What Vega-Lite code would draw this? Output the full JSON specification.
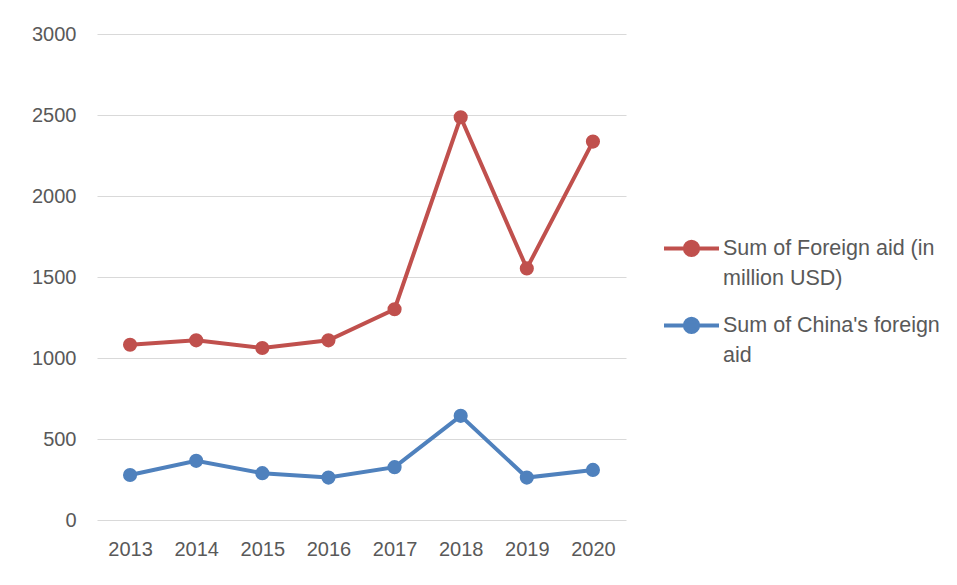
{
  "$schema": "https://vega.github.io/schema/vega-lite/v6.json",
  "width": 529,
  "height": 486,
  "autosize": {"type": "none"},
  "padding": {"left": 97, "top": 34, "right": 331, "bottom": 65},
  "background": "white",
  "data": {
    "values": [
      {"year": "2013", "series": "Sum of Foreign aid (in million USD)", "value": 1082},
      {"year": "2014", "series": "Sum of Foreign aid (in million USD)", "value": 1109},
      {"year": "2015", "series": "Sum of Foreign aid (in million USD)", "value": 1062},
      {"year": "2016", "series": "Sum of Foreign aid (in million USD)", "value": 1109},
      {"year": "2017", "series": "Sum of Foreign aid (in million USD)", "value": 1301},
      {"year": "2018", "series": "Sum of Foreign aid (in million USD)", "value": 2486},
      {"year": "2019", "series": "Sum of Foreign aid (in million USD)", "value": 1553},
      {"year": "2020", "series": "Sum of Foreign aid (in million USD)", "value": 2336},
      {"year": "2013", "series": "Sum of China's foreign aid", "value": 278},
      {"year": "2014", "series": "Sum of China's foreign aid", "value": 365},
      {"year": "2015", "series": "Sum of China's foreign aid", "value": 289},
      {"year": "2016", "series": "Sum of China's foreign aid", "value": 262},
      {"year": "2017", "series": "Sum of China's foreign aid", "value": 326},
      {"year": "2018", "series": "Sum of China's foreign aid", "value": 643},
      {"year": "2019", "series": "Sum of China's foreign aid", "value": 262},
      {"year": "2020", "series": "Sum of China's foreign aid", "value": 309}
    ]
  },
  "encoding": {
    "x": {
      "field": "year",
      "type": "ordinal",
      "scale": {"type": "point", "padding": 0.5},
      "axis": {
        "title": null,
        "labelAngle": 0,
        "domain": false,
        "ticks": false,
        "grid": false,
        "labelPadding": 19,
        "labelFontSize": 20
      }
    },
    "y": {
      "field": "value",
      "type": "quantitative",
      "scale": {"domain": [0, 3000]},
      "axis": {
        "title": null,
        "values": [0, 500, 1000, 1500, 2000, 2500, 3000],
        "format": "d",
        "domain": false,
        "ticks": false,
        "grid": true,
        "gridColor": "#d9d9d9",
        "gridWidth": 1,
        "labelPadding": 21,
        "labelFontSize": 20
      }
    },
    "color": {
      "field": "series",
      "type": "nominal",
      "sort": ["Sum of Foreign aid (in million USD)", "Sum of China's foreign aid"],
      "scale": {
        "domain": ["Sum of Foreign aid (in million USD)", "Sum of China's foreign aid"],
        "range": ["#C0504D", "#4F81BD"]
      }
    }
  },
  "layer": [
    {
      "mark": {"type": "line", "strokeWidth": 4},
      "encoding": {
        "color": {
          "field": "series",
          "type": "nominal",
          "sort": ["Sum of Foreign aid (in million USD)", "Sum of China's foreign aid"],
          "scale": {
            "domain": ["Sum of Foreign aid (in million USD)", "Sum of China's foreign aid"],
            "range": ["#C0504D", "#4F81BD"]
          },
          "legend": {
            "title": null,
            "orient": "none",
            "legendX": 565,
            "legendY": 191,
            "symbolType": "M-1,-0.22L1,-0.22M-0.24,-0.22A0.24,0.24,0,1,1,0.24,-0.22A0.24,0.24,0,1,1,-0.24,-0.22Z",
            "symbolSize": 3025,
            "symbolStrokeWidth": 4,
            "labelFont": "Liberation Sans",
            "labelFontSize": 21.5,
            "labelColor": "#595959",
            "labelOffset": 2,
            "labelLimit": 400,
            "labelBaseline": "alphabetic",
            "rowPadding": 13,
            "labelExpr": "datum.label == 'Sum of Foreign aid (in million USD)' ? ['Sum of Foreign aid (in', 'million USD)'] : [\"Sum of China's foreign\", 'aid']",
            "encode": {
              "symbols": {
                "update": {
                  "fill": {"scale": "color", "field": "value"},
                  "stroke": {"scale": "color", "field": "value"},
                  "opacity": {"value": 1}
                }
              }
            }
          }
        }
      }
    },
    {
      "mark": {"type": "point", "filled": true, "size": 200, "opacity": 1},
      "encoding": {
        "color": {
          "field": "series",
          "type": "nominal",
          "legend": null
        }
      }
    }
  ],
  "config": {
    "view": {"stroke": null},
    "axis": {"labelFont": "Liberation Sans", "labelColor": "#595959"},
    "style": {"guide-label": {"lineHeight": 30}}
  }
}
